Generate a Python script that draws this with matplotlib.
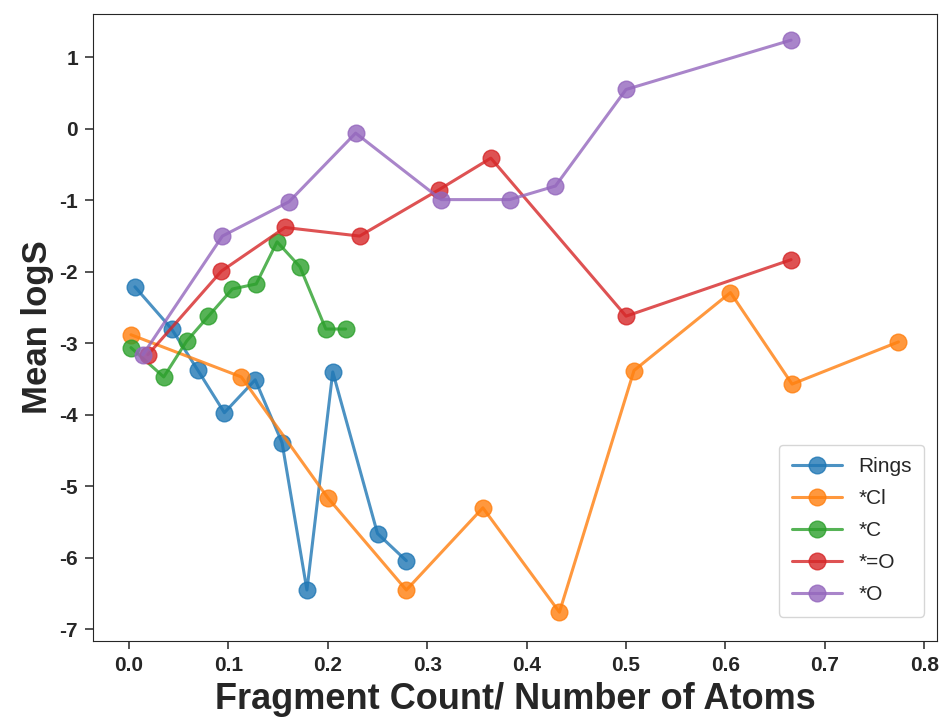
import matplotlib
matplotlib.use('Agg')
import matplotlib.pyplot as plt
import seaborn as sns

# fragment ratio vs mean logS, one list per fragment
rings_x = [0.006, 0.043, 0.069, 0.096, 0.127, 0.154, 0.179, 0.205, 0.250, 0.279]
rings_y = [-2.21, -2.80, -3.37, -3.97, -3.51, -4.39, -6.45, -3.40, -5.66, -6.04]

cl_x = [0.002, 0.113, 0.200, 0.279, 0.356, 0.433, 0.508, 0.605, 0.667, 0.774]
cl_y = [-2.88, -3.47, -5.16, -6.45, -5.30, -6.76, -3.38, -2.29, -3.57, -2.98]

c_x = [0.002, 0.035, 0.058, 0.080, 0.104, 0.128, 0.149, 0.172, 0.198, 0.218]
c_y = [-3.06, -3.47, -2.97, -2.62, -2.24, -2.17, -1.58, -1.93, -2.80, -2.80]

co_x = [0.019, 0.093, 0.157, 0.232, 0.312, 0.364, 0.500, 0.666]
co_y = [-3.16, -1.99, -1.38, -1.50, -0.85, -0.41, -2.62, -1.83]

oh_x = [0.014, 0.094, 0.161, 0.228, 0.314, 0.383, 0.429, 0.500, 0.666]
oh_y = [-3.16, -1.50, -1.02, -0.06, -0.99, -0.99, -0.80, 0.55, 1.24]

labels = ['Rings', '*Cl', '*C', '*=O', '*O']

sns.set_style('ticks')
plt.rcParams['font.family'] = ['Liberation Sans', 'DejaVu Sans']

fig, ax = plt.subplots(figsize=(9.41, 7.2), dpi=100)
fig.subplots_adjust(left=0.099, right=0.996, top=0.981, bottom=0.11)

series = [(rings_x, rings_y), (cl_x, cl_y), (c_x, c_y), (co_x, co_y), (oh_x, oh_y)]
for (xs, ys), name in zip(series, labels):
  ax.plot(xs, ys, marker='o', markersize=12, linewidth=2.2, alpha=0.8, label=name)

ax.set_xlim(-0.036, 0.813)
ax.set_ylim(-7.16, 1.61)
ax.set_xticks([0.0, 0.1, 0.2, 0.3, 0.4, 0.5, 0.6, 0.7, 0.8])
ax.set_yticks(range(-7, 2))
ax.set_yticklabels([str(v) for v in range(-7, 2)])
ax.tick_params(length=6, width=1.1, pad=5)
for lbl in ax.get_xticklabels() + ax.get_yticklabels():
  lbl.set_fontsize(15)
  lbl.set_fontweight('bold')
  lbl.set_color('#262626')

ax.set_xlabel('Fragment Count/ Number of Atoms', fontsize=26, fontweight='bold', labelpad=5)
ax.set_ylabel('Mean logS', fontsize=25, fontweight='bold', labelpad=4)

leg = ax.legend(loc='lower right', fontsize=15, borderpad=0.6, labelspacing=0.62,
                handlelength=2.4, bbox_to_anchor=(0.997, 0.022))
for t in leg.get_texts():
  t.set_color('#262626')

plt.savefig('out.png', dpi=100)
